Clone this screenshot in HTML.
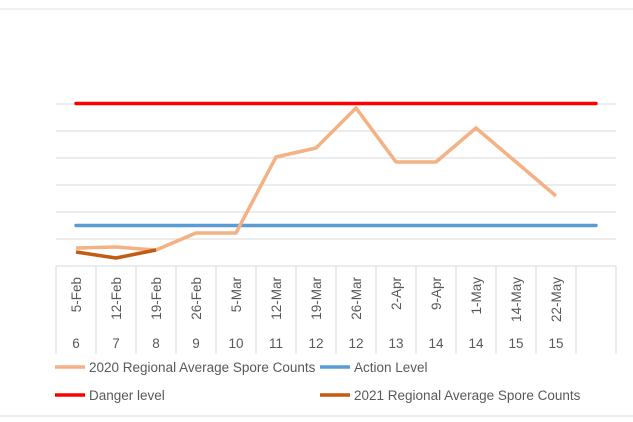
<!DOCTYPE html><html><head><style>body{margin:0;background:#fff}svg{display:block;font-family:"Liberation Sans",sans-serif}</style></head><body>
<svg width="633" height="422" viewBox="0 0 633 422">
<line x1="0" y1="9" x2="633" y2="9" stroke="#e0e0e0"/>
<line x1="0" y1="416" x2="633" y2="416" stroke="#d9d9d9"/>
<g stroke="#d9d9d9" stroke-width="1">
<line x1="56" y1="104" x2="616" y2="104"/><line x1="56" y1="131" x2="616" y2="131"/><line x1="56" y1="158" x2="616" y2="158"/><line x1="56" y1="185" x2="616" y2="185"/><line x1="56" y1="212" x2="616" y2="212"/><line x1="56" y1="239" x2="616" y2="239"/><line x1="56" y1="266" x2="616" y2="266"/>
<line x1="56" y1="266" x2="56" y2="354"/><line x1="96" y1="266" x2="96" y2="354"/><line x1="136" y1="266" x2="136" y2="354"/><line x1="176" y1="266" x2="176" y2="354"/><line x1="216" y1="266" x2="216" y2="354"/><line x1="256" y1="266" x2="256" y2="354"/><line x1="296" y1="266" x2="296" y2="354"/><line x1="336" y1="266" x2="336" y2="354"/><line x1="376" y1="266" x2="376" y2="354"/><line x1="416" y1="266" x2="416" y2="354"/><line x1="456" y1="266" x2="456" y2="354"/><line x1="496" y1="266" x2="496" y2="354"/><line x1="536" y1="266" x2="536" y2="354"/><line x1="576" y1="266" x2="576" y2="354"/><line x1="616" y1="266" x2="616" y2="354"/>
</g>
<line x1="76" y1="103.5" x2="596" y2="103.5" stroke="#ff0000" stroke-width="3.5" stroke-linecap="round"/>
<line x1="76" y1="225.5" x2="596" y2="225.5" stroke="#5b9bd5" stroke-width="3.5" stroke-linecap="round"/>
<polyline fill="none" stroke="#f4b183" stroke-width="3.5" stroke-linejoin="round" points="76,248 116,247 156,250 196,233 236,233 276,157 316,148 356,108 396,162 436,162 476,128 516,162 556,196"/>
<polyline fill="none" stroke="#c55a11" stroke-width="3.5" stroke-linejoin="round" points="76,252 116,258 156,250"/>
<g font-size="13.5" fill="#595959" text-anchor="end">
<text transform="translate(81,277) rotate(-90)">5-Feb</text><text transform="translate(121,277) rotate(-90)">12-Feb</text><text transform="translate(161,277) rotate(-90)">19-Feb</text><text transform="translate(201,277) rotate(-90)">26-Feb</text><text transform="translate(241,277) rotate(-90)">5-Mar</text><text transform="translate(281,277) rotate(-90)">12-Mar</text><text transform="translate(321,277) rotate(-90)">19-Mar</text><text transform="translate(361,277) rotate(-90)">26-Mar</text><text transform="translate(401,277) rotate(-90)">2-Apr</text><text transform="translate(441,277) rotate(-90)">9-Apr</text><text transform="translate(481,277) rotate(-90)">1-May</text><text transform="translate(521,277) rotate(-90)">14-May</text><text transform="translate(561,277) rotate(-90)">22-May</text>
</g>
<g font-size="13.5" fill="#595959" text-anchor="middle">
<text x="76" y="348">6</text><text x="116" y="348">7</text><text x="156" y="348">8</text><text x="196" y="348">9</text><text x="236" y="348">10</text><text x="276" y="348">11</text><text x="316" y="348">12</text><text x="356" y="348">12</text><text x="396" y="348">13</text><text x="436" y="348">14</text><text x="476" y="348">14</text><text x="516" y="348">15</text><text x="556" y="348">15</text>
</g>
<g font-size="13.5" fill="#595959">
<line x1="55" y1="367" x2="85" y2="367" stroke="#f4b183" stroke-width="3.5"/><text x="89" y="372">2020 Regional Average Spore Counts</text>
<line x1="320" y1="367" x2="350" y2="367" stroke="#5b9bd5" stroke-width="3.5"/><text x="354" y="372">Action Level</text>
<line x1="55" y1="395" x2="85" y2="395" stroke="#ff0000" stroke-width="3.5"/><text x="89" y="400">Danger level</text>
<line x1="320" y1="395" x2="350" y2="395" stroke="#c55a11" stroke-width="3.5"/><text x="354" y="400">2021 Regional Average Spore Counts</text>
</g>
</svg></body></html>
